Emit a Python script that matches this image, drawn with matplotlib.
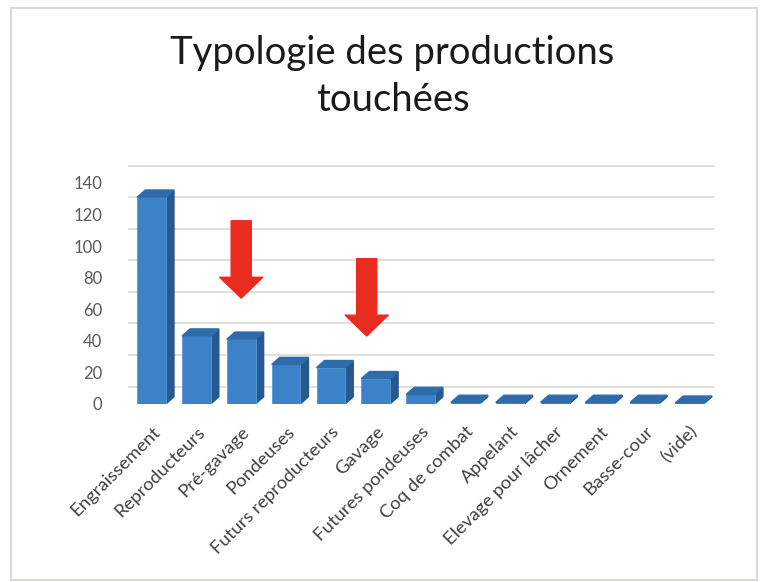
import matplotlib
matplotlib.use("Agg")
import matplotlib.pyplot as plt
from matplotlib.patches import Polygon, Rectangle
from matplotlib.transforms import ScaledTranslation

plt.rcParams['font.family'] = ['Lato', 'DejaVu Sans']

# data
categories = ["Engraissement", "Reproducteurs", "Pré-gavage", "Pondeuses",
              "Futurs reproducteurs", "Gavage", "Futures pondeuses",
              "Coq de combat", "Appelant", "Elevage pour lâcher", "Ornement",
              "Basse-cour", "(vide)"]
counts = [131, 43, 41, 25, 23, 16, 6, 1, 1, 1, 1, 1, 0.5]
y_ticks = [0, 20, 40, 60, 80, 100, 120, 140]

# red arrows (category position, start value, end value)
arrow_x = [2.0, 4.8]
arrow_from = [116, 92]
arrow_to = [67, 43]

front_col = "#3b82c9"
side_col = "#25598f"
top_col = "#2f6cab"
bar_w = 0.64
dx, dy = 0.18, 4.5
grid_shift = 11  # back wall gridlines sit higher than the front labels

fig = plt.figure(figsize=(7.65, 5.82), dpi=100)
fig.patches.append(Rectangle((0.014, 0.004), 0.975, 0.982, transform=fig.transFigure,
                             fill=False, edgecolor="#dcd8d4", linewidth=1.5))

ax = fig.add_axes([0.163, 0.306, 0.771, 0.415])
ax.set_xlim(-0.6, 12.56)
ax.set_ylim(0, 153)

for y in y_ticks:
    ax.plot([-0.5, 12.56], [y + grid_shift] * 2, color="#dcd9d6", linewidth=1.2, zorder=0)

xs = list(range(len(categories)))
ax.bar(xs, counts, width=bar_w, color=front_col, edgecolor="#5b9bd8",
       linewidth=0.6, zorder=3)
for x, v in zip(xs, counts):
    r = x + bar_w / 2
    l = x - bar_w / 2
    ax.add_patch(Polygon([(r, 0), (r + dx, dy), (r + dx, v + dy), (r, v)],
                         closed=True, color=side_col, zorder=2))
    ax.add_patch(Polygon([(l, v), (r, v), (r + dx, v + dy), (l + dx, v + dy)],
                         closed=True, color=top_col, zorder=4))

for x, y0, y1 in zip(arrow_x, arrow_from, arrow_to):
    ax.annotate("", xy=(x, y1), xytext=(x, y0), zorder=6,
                arrowprops=dict(arrowstyle="simple,head_length=1.5,head_width=3.1,tail_width=1.45",
                                color="#ea2b1f", shrinkA=0, shrinkB=0, mutation_scale=10))

ax.set_yticks(y_ticks)
ax.set_yticklabels([str(t) for t in y_ticks], fontsize=12, color="#595959")
ax.set_xticks(xs)
ax.set_xticklabels(categories, rotation=45, ha="right", rotation_mode="anchor",
                   fontsize=13.3, color="#404040")
shift = ScaledTranslation(-8 / 72, 0, fig.dpi_scale_trans)
for lbl in ax.get_xticklabels():
    lbl.set_transform(lbl.get_transform() + shift)
ax.tick_params(length=0)
ax.tick_params(axis="x", pad=14)
ax.tick_params(axis="y", pad=16)
for s in ax.spines.values():
    s.set_visible(False)

fig.text(0.513, 0.868, "Typologie des productions\ntouchées", ha="center", va="center",
         fontsize=27.5, color="#1a1a1a", linespacing=1.38)

fig.savefig("out.png", dpi=100)
